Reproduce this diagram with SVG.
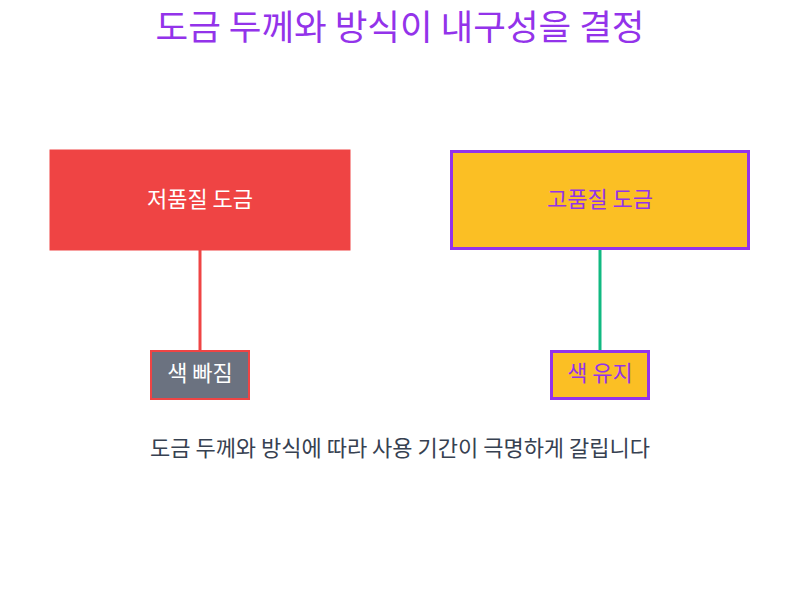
<svg xmlns="http://www.w3.org/2000/svg" width="800" height="600" viewBox="0 0 800 600">
<style>
text{font-family:"Noto Sans CJK KR","Noto Sans",sans-serif;text-anchor:middle}
.t{font-size:22px}
</style>
<rect width="800" height="600" fill="#ffffff"/>
<text x="400" y="40" font-size="35.5" fill="#9333EA">도금 두께와 방식이 내구성을 결정</text>
<g id="connectors">
<line x1="200" y1="250" x2="200" y2="350" stroke="#EF4444" stroke-width="3"/>
<line x1="600" y1="250" x2="600" y2="350" stroke="#10B981" stroke-width="3"/>
</g>
<g id="low">
<rect x="50" y="150" width="300" height="100" fill="#EF4444" stroke="#EF4444" stroke-width="1"/>
<text class="t" x="200" y="207" fill="#ffffff">저품질 도금</text>
</g>
<g id="high">
<rect x="451.5" y="151.5" width="297" height="97" fill="#FBBF24" stroke="#9333EA" stroke-width="3"/>
<text class="t" x="600" y="207" fill="#9333EA">고품질 도금</text>
</g>
<g id="fade">
<rect x="151" y="351" width="98" height="48" fill="#6B7280" stroke="#EF4444" stroke-width="2"/>
<text class="t" x="200" y="381" fill="#ffffff">색 빠짐</text>
</g>
<g id="keep">
<rect x="551.5" y="351.5" width="97" height="47" fill="#FBBF24" stroke="#9333EA" stroke-width="3"/>
<text class="t" x="600" y="381" fill="#9333EA">색 유지</text>
</g>
<text x="400" y="456" font-size="22" fill="#374151">도금 두께와 방식에 따라 사용 기간이 극명하게 갈립니다</text>
</svg>
